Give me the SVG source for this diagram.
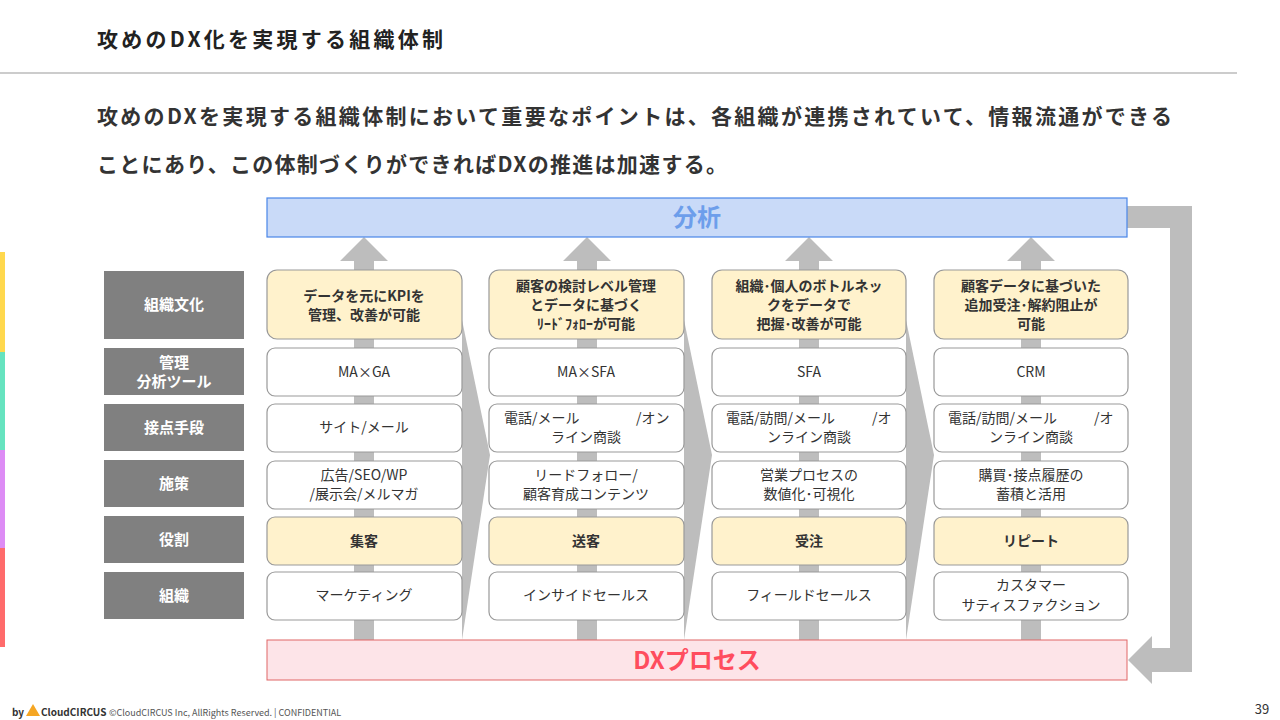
<svg xmlns="http://www.w3.org/2000/svg" width="1280" height="720" viewBox="0 0 1280 720">
<style>
text{font-family:"Noto Sans CJK JP","Liberation Sans",sans-serif;}
.lab rect{fill:#808080;}
.lab text{fill:#fff;font-size:15px;font-weight:bold;text-anchor:middle;}
.y rect{fill:#fff2cc;stroke:#999;stroke-width:1.2;}
.w rect{fill:#fff;stroke:#999;stroke-width:1.2;}
.c text{font-size:14px;fill:#333;text-anchor:middle;}
.c text.s{text-anchor:start;}
.y text{font-weight:bold;}
.g{fill:#bdbdbd;}
</style>
<rect width="1280" height="720" fill="#fff"/>
<text x="97" y="47" font-size="21" font-weight="bold" fill="#222" textLength="346" lengthAdjust="spacing">攻めのDX化を実現する組織体制</text>
<line x1="0" y1="73" x2="1237" y2="73" stroke="#999" stroke-width="1"/>
<text x="97" y="124" font-size="21" font-weight="bold" fill="#333" textLength="1075" lengthAdjust="spacing">攻めのDXを実現する組織体制において重要なポイントは、各組織が連携されていて、情報流通ができる</text>
<text x="97" y="172" font-size="21" font-weight="bold" fill="#333" textLength="630" lengthAdjust="spacing">ことにあり、この体制づくりができればDXの推進は加速する。</text>
<rect x="0" y="252" width="5" height="100" fill="#ffd84d"/>
<rect x="0" y="352" width="5" height="98" fill="#66e3bf"/>
<rect x="0" y="450" width="5" height="98" fill="#dd8cf5"/>
<rect x="0" y="548" width="5" height="99" fill="#ff6b6b"/>
<g id="connectors">
<polygon class="g" points="462,320 490,455 462,640"/>
<polygon class="g" points="684,320 712,455 684,640"/>
<polygon class="g" points="906,320 934,455 906,640"/>
<g class="g">
<polygon points="354,640 354,261 340,261 364,237 388,261 374,261 374,640"/>
<polygon points="577,640 577,261 563,261 587,237 611,261 597,261 597,640"/>
<polygon points="799,640 799,261 785,261 809,237 833,261 819,261 819,640"/>
<polygon points="1021,640 1021,261 1007,261 1031,237 1055,261 1041,261 1041,640"/>
</g>
<polygon class="g" points="1127,206 1192,206 1192,672 1152,672 1152,684 1128,660 1152,636 1152,648 1170,648 1170,228 1127,228"/>
</g>
<g id="analysis"><rect x="267" y="198" width="860" height="39" fill="#c9daf8" stroke="#4a86e8" stroke-width="1.2"/><text x="697" y="226" font-size="24" font-weight="bold" fill="#6d9eeb" text-anchor="middle">分析</text></g>
<g id="dxprocess"><rect x="267" y="640" width="860" height="40" fill="#fde4e8" stroke="#e06666" stroke-width="1"/><text x="697" y="669" font-size="24" font-weight="bold" fill="#ff4d5e" text-anchor="middle">DXプロセス</text></g>
<g class="lab">
<g id="l1"><rect x="104" y="271" width="140" height="68"/><text x="174" y="310">組織文化</text></g>
<g id="l2"><rect x="104" y="348" width="140" height="47"/><text x="174" y="368">管理</text><text x="174" y="387">分析ツール</text></g>
<g id="l3"><rect x="104" y="404" width="140" height="47"/><text x="174" y="433">接点手段</text></g>
<g id="l4"><rect x="104" y="460" width="140" height="47"/><text x="174" y="489">施策</text></g>
<g id="l5"><rect x="104" y="516" width="140" height="47"/><text x="174" y="545">役割</text></g>
<g id="l6"><rect x="104" y="572" width="140" height="47"/><text x="174" y="601">組織</text></g>
</g>
<g class="c">
<g id="c1r1" class="y"><rect x="267" y="270" width="195" height="69" rx="10"/><text x="364" y="301">データを元にKPIを</text><text x="364" y="320">管理、改善が可能</text></g>
<g id="c2r1" class="y"><rect x="489" y="270" width="195" height="69" rx="10"/><text x="586" y="291">顧客の検討レベル管理</text><text x="586" y="310">とデータに基づく</text><text x="586" y="329" font-size="13">ﾘｰﾄﾞﾌｫﾛｰが可能</text></g>
<g id="c3r1" class="y"><rect x="712" y="270" width="194" height="69" rx="10"/><text x="809" y="291">組織･個人のボトルネッ</text><text x="809" y="310">クをデータで</text><text x="809" y="329">把握･改善が可能</text></g>
<g id="c4r1" class="y"><rect x="934" y="270" width="194" height="69" rx="10"/><text x="1031" y="291">顧客データに基づいた</text><text x="1031" y="310">追加受注･解約阻止が</text><text x="1031" y="329">可能</text></g>
<g id="c1r2" class="w"><rect x="267" y="348" width="195" height="48" rx="8"/><text x="364" y="377">MA×GA</text></g>
<g id="c2r2" class="w"><rect x="489" y="348" width="195" height="48" rx="8"/><text x="586" y="377">MA×SFA</text></g>
<g id="c3r2" class="w"><rect x="712" y="348" width="194" height="48" rx="8"/><text x="809" y="377">SFA</text></g>
<g id="c4r2" class="w"><rect x="934" y="348" width="194" height="48" rx="8"/><text x="1031" y="377">CRM</text></g>
<g id="c1r3" class="w"><rect x="267" y="404" width="195" height="48" rx="8"/><text x="364" y="432">サイト/メール</text></g>
<g id="c2r3" class="w"><rect x="489" y="404" width="195" height="48" rx="8"/><text class="s" x="504" y="423">電話/メール</text><text class="s" x="636" y="423">/オン</text><text x="586" y="442">ライン商談</text></g>
<g id="c3r3" class="w"><rect x="712" y="404" width="194" height="48" rx="8"/><text class="s" x="726" y="423">電話/訪問/メール</text><text class="s" x="872" y="423">/オ</text><text x="809" y="442">ンライン商談</text></g>
<g id="c4r3" class="w"><rect x="934" y="404" width="194" height="48" rx="8"/><text class="s" x="948" y="423">電話/訪問/メール</text><text class="s" x="1094" y="423">/オ</text><text x="1031" y="442">ンライン商談</text></g>
<g id="c1r4" class="w"><rect x="267" y="461" width="195" height="48" rx="8"/><text x="364" y="480">広告/SEO/WP</text><text x="364" y="499">/展示会/メルマガ</text></g>
<g id="c2r4" class="w"><rect x="489" y="461" width="195" height="48" rx="8"/><text x="586" y="480">リードフォロー/</text><text x="586" y="499">顧客育成コンテンツ</text></g>
<g id="c3r4" class="w"><rect x="712" y="461" width="194" height="48" rx="8"/><text x="809" y="480">営業プロセスの</text><text x="809" y="499">数値化･可視化</text></g>
<g id="c4r4" class="w"><rect x="934" y="461" width="194" height="48" rx="8"/><text x="1031" y="480">購買･接点履歴の</text><text x="1031" y="499">蓄積と活用</text></g>
<g id="c1r5" class="y"><rect x="267" y="517" width="195" height="48" rx="8"/><text x="364" y="546">集客</text></g>
<g id="c2r5" class="y"><rect x="489" y="517" width="195" height="48" rx="8"/><text x="586" y="546">送客</text></g>
<g id="c3r5" class="y"><rect x="712" y="517" width="194" height="48" rx="8"/><text x="809" y="546">受注</text></g>
<g id="c4r5" class="y"><rect x="934" y="517" width="194" height="48" rx="8"/><text x="1031" y="546">リピート</text></g>
<g id="c1r6" class="w"><rect x="267" y="572" width="195" height="48" rx="8"/><text x="364" y="600">マーケティング</text></g>
<g id="c2r6" class="w"><rect x="489" y="572" width="195" height="48" rx="8"/><text x="586" y="600">インサイドセールス</text></g>
<g id="c3r6" class="w"><rect x="712" y="572" width="194" height="48" rx="8"/><text x="809" y="600">フィールドセールス</text></g>
<g id="c4r6" class="w"><rect x="934" y="572" width="194" height="48" rx="8"/><text x="1031" y="590">カスタマー</text><text x="1031" y="610">サティスファクション</text></g>
</g>
<text x="12" y="716" font-size="10" font-weight="bold" fill="#333">by</text>
<polygon points="26,716 33,704 40,716" fill="#f5a623"/>
<text x="41" y="716" font-size="10" font-weight="bold" fill="#333">CloudCIRCUS</text>
<text x="109" y="716" font-size="9" fill="#555">©CloudCIRCUS Inc, AllRights Reserved. | CONFIDENTIAL</text>
<text x="1262" y="714" font-size="13" fill="#333" text-anchor="middle">39</text>
</svg>
